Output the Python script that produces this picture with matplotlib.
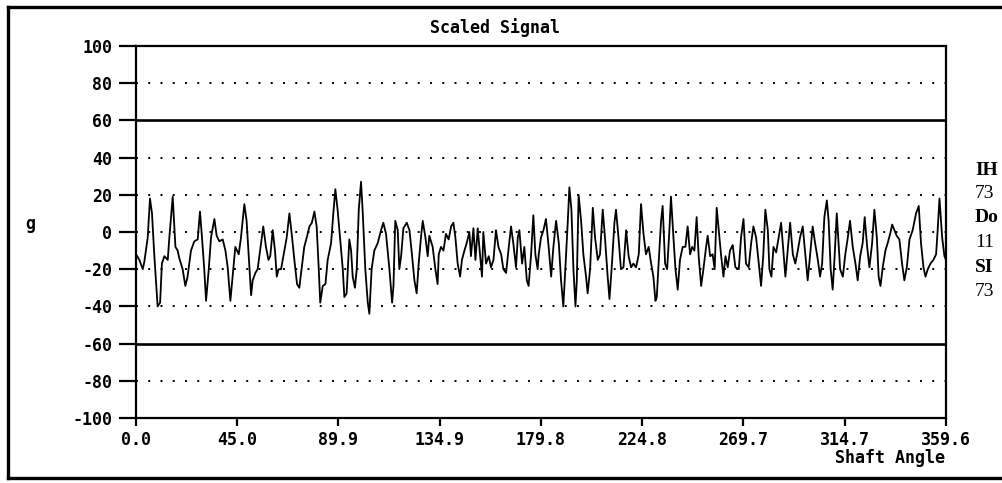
import matplotlib
matplotlib.use("Agg")
import matplotlib.pyplot as plt
from matplotlib.lines import Line2D

# ---- data ----
angle = [
    0.0, 1.5, 3.0, 3.7, 5.2, 6.2, 7.1, 8.1, 9.6, 10.7, 11.5, 12.6, 14.1, 14.8, 16.3,
    17.5, 18.5, 19.2, 20.7, 21.9, 22.9, 24.4, 25.9, 27.4, 28.4, 29.3, 30.3, 31.1, 32.3, 33.3,
    34.8, 35.8, 37.0, 38.5, 39.7, 40.7, 41.9, 42.9, 44.1,
    45.6, 46.6, 48.1, 49.1, 50.0, 51.1, 51.8, 53.0, 54.0, 55.1, 56.5, 57.7, 58.8, 59.6, 60.7,
    61.7, 62.5, 63.3, 64.4, 65.9, 66.9, 68.1, 69.3, 70.3, 71.5, 72.5, 73.6, 74.7, 75.8, 77.0,
    78.1, 79.2, 80.2, 81.1, 81.8, 82.9, 84.1, 85.1, 86.6, 87.6, 88.5, 89.5, 90.6,
    91.8, 92.5, 93.5, 94.7, 95.5, 96.2, 97.2, 98.0, 98.9, 99.9, 100.6, 101.8, 102.9, 103.6, 104.6,
    105.8, 107.3, 108.8, 109.8, 111.0, 112.5, 113.7, 114.3, 115.1, 116.2, 116.9, 117.7, 118.7, 120.2, 121.4,
    122.5, 123.6, 124.6, 125.5, 126.5, 127.3, 128.5, 129.5, 130.2, 131.7, 132.9, 133.9,
    134.4, 135.4, 136.5, 137.6, 138.8, 139.9, 140.9, 141.8, 142.8, 143.9, 144.7, 145.8, 146.8, 148.0, 148.7,
    149.8, 150.7, 151.7, 152.7, 153.6, 154.2, 155.4, 156.6, 157.6, 158.7, 159.8, 160.9, 162.1, 163.1, 164.3,
    165.5, 166.5, 167.5, 168.7, 169.5, 170.2, 171.4, 172.4, 173.5, 174.3, 175.4, 176.4, 177.3, 178.3,
    178.8, 179.8, 180.9, 182.0, 183.2, 184.3, 185.3, 186.5, 187.7, 188.7, 189.7, 190.6, 191.7, 192.4, 193.3,
    194.2, 195.1, 195.7, 196.5, 197.6, 198.6, 199.8, 200.5, 201.6, 202.8, 203.8, 205.0, 206.0, 207.2, 208.2,
    209.4, 210.2, 211.3, 212.4, 213.1, 214.2, 215.3, 216.4, 217.6, 218.7, 219.8, 220.8, 222.0,
    223.2, 224.2, 225.3, 226.4, 227.6, 228.7, 229.7, 230.6, 231.2, 232.1, 233.1, 233.8, 234.9, 235.8, 236.8,
    237.5, 238.6, 239.5, 240.5, 241.5, 242.7, 243.9, 244.9, 246.0, 246.9, 247.9, 248.9, 249.8, 250.9, 251.9,
    253.1, 253.8, 254.9, 256.0, 256.9, 257.8, 258.7, 259.7, 260.8, 261.7, 262.7, 263.7, 264.9, 266.1,
    267.6, 268.6, 269.7, 270.8, 272.0, 273.1, 274.1, 275.3, 276.5, 277.5, 278.5, 279.4, 280.5, 281.2, 282.1,
    283.0, 284.2, 285.3, 286.4, 287.4, 288.3, 289.3, 290.4, 291.6, 292.7, 293.8, 294.8, 296.0, 297.0, 298.2,
    299.3, 300.4, 301.5, 302.7, 303.7, 304.6, 305.6, 306.7, 307.5, 308.4, 309.3, 310.2, 311.1,
    312.6, 313.8, 314.9, 316.0, 317.0, 318.2, 319.4, 320.4, 321.5, 322.6, 323.5, 324.6, 325.6, 326.8, 327.8,
    328.9, 329.7, 330.5, 331.5, 332.7, 333.7, 334.8, 335.7, 336.7, 337.7, 338.9, 340.1, 341.1, 342.2, 343.4,
    344.8, 346.3, 347.5, 348.5, 349.6, 350.5, 351.5, 352.7, 354.0, 355.2, 355.9, 356.7, 357.9, 358.9, 359.6,
]
signal_g = [
    -12, -15, -20, -16, -3, 18, 10, -12, -40, -38, -17, -13, -15, -3, 19,
    -8, -10, -14, -20, -29, -24, -10, -5, -4, 11, -3, -20, -37, -20, -3,
    7, -2, -5, -4, -10, -19, -37, -24, -8,
    -12, -3, 15, 6, -12, -34, -26, -22, -20, -10, 3, -8, -15, -13, 1,
    -10, -24, -20, -20, -10, -3, 10, -3, -15, -28, -30, -19, -8, -3, 3,
    5, 11, 3, -19, -38, -29, -28, -15, -6, 10, 23, 12, -3,
    -20, -35, -33, -4, -10, -24, -30, -20, 12, 27, 12, -20, -38, -44, -20,
    -10, -6, 1, 5, -1, -20, -38, -29, 6, 1, -20, -13, 2, 5, 1,
    -12, -26, -33, -17, -3, 6, -3, -13, -2, -8, -20, -28,
    -12, -8, -10, -1, -4, 3, 5, -3, -17, -24, -15, -10, -6, 0, -13,
    2, -15, 2, -12, -24, 0, -17, -13, -19, -15, 1, -8, -12, -20, -22,
    -8, 3, -6, -19, -3, 1, -17, -8, -26, -29, -12, 9, -12, -20,
    -12, -3, 1, 7, -8, -24, -8, 6, -6, -26, -40, -20, 6, 24, 12,
    -20, -40, -26, 20, 6, -12, -24, -33, -20, 13, -3, -15, -12, 12, -3,
    -24, -36, -17, 5, 12, -3, -20, -19, 1, -13, -19, -17, -19,
    -12, 15, -1, -12, -8, -17, -24, -37, -35, -15, 6, 14, -17, -20, 1,
    19, -3, -20, -31, -15, -8, -8, 3, -12, -8, -10, 8, -13, -29, -20,
    -8, -2, -13, -12, -20, 13, 1, -12, -24, -13, -19, -10, -7, -19,
    -20, -3, 7, -17, -19, -6, 3, -3, -17, -29, -12, 12, 1, -20, -24,
    -8, -11, -3, 5, -10, -24, -10, 5, -12, -17, -10, -3, 3, -10, -26,
    -12, 3, -6, -15, -24, -17, 8, 17, 6, -20, -31, -12, 10,
    -20, -24, -12, -3, 6, -8, -17, -26, -13, -6, 8, -8, -19, -6, 12,
    -3, -24, -29, -19, -10, -6, -1, 4, 1, -2, -4, -17, -26, -19, -4,
    1, 10, 14, -6, -19, -24, -20, -17, -15, -12, 1, 18, -3, -13, -15,
]
x_ticks = [0.0, 45.0, 89.9, 134.9, 179.8, 224.8, 269.7, 314.7, 359.6]
x_tick_labels = ["0.0", "45.0", "89.9", "134.9", "179.8", "224.8", "269.7", "314.7", "359.6"]
y_ticks = [100, 80, 60, 40, 20, 0, -20, -40, -60, -80, -100]
solid_levels = [60, -60]
dotted_levels = [80, 40, 20, 0, -20, -40, -80]
side_lines = ["IH", "73", "Do", "11", "SI", "73"]
side_bold = [True, False, True, False, True, False]

# ---- drawing ----
W, H = 1003, 483
mono = "DejaVu Sans Mono"
fs = 12
fig = plt.figure(figsize=(W / 100, H / 100), dpi=100)
fig.patch.set_facecolor("white")

ax = fig.add_axes([136 / W, 1 - 418 / H, (946 - 136) / W, (418 - 46) / H])
ax.set_xlim(0, 359.6)
ax.set_ylim(-100, 100)

for lv in dotted_levels:
    ax.axhline(lv, color="black", lw=1.4, linestyle=(0, (1, 5.3)), zorder=1)
for lv in solid_levels:
    ax.axhline(lv, color="black", lw=1.9, zorder=1)

ax.plot(angle, signal_g, color="black", lw=1.3, zorder=3)

ax.set_xticks(x_ticks)
ax.set_xticklabels(x_tick_labels)
ax.set_yticks(y_ticks)
ax.set_yticklabels([str(v) for v in y_ticks])
for lab in ax.get_xticklabels() + ax.get_yticklabels():
    lab.set_fontfamily(mono)
    lab.set_fontweight("bold")
    lab.set_fontsize(fs)
ax.tick_params(axis="y", direction="out", length=12, width=1.6, pad=5)
ax.tick_params(axis="x", direction="out", length=5.5, width=1.6, pad=4)
for sp in ax.spines.values():
    sp.set_linewidth(1.6)

fig.text(495 / W, 1 - 28 / H, "Scaled Signal", ha="center", va="center",
         family=mono, weight="bold", fontsize=fs)
fig.text(945 / W, 1 - 458 / H, "Shaft Angle", ha="right", va="center",
         family=mono, weight="bold", fontsize=fs)
fig.text(30 / W, 1 - 224 / H, "g", ha="center", va="center",
         family=mono, weight="bold", fontsize=fs)

side_y = [170, 194, 218, 243, 267, 291]
for txt, yy, b in zip(side_lines, side_y, side_bold):
    fig.text(975 / W, 1 - yy / H, txt, ha="left", va="center",
             family="Liberation Serif", weight="bold" if b else "normal", fontsize=14)

# outer frame (continues beyond the right edge)
fx0, fy0, fy1 = 8 / W, 1 - 478 / H, 1 - 7 / H
fig.add_artist(Line2D([fx0, fx0], [fy0, fy1], color="black", lw=2.4, transform=fig.transFigure))
fig.add_artist(Line2D([fx0, 1.01], [fy1, fy1], color="black", lw=2.4, transform=fig.transFigure))
fig.add_artist(Line2D([fx0, 1.01], [fy0, fy0], color="black", lw=2.4, transform=fig.transFigure))

fig.savefig("out.png", dpi=100, facecolor="white")
